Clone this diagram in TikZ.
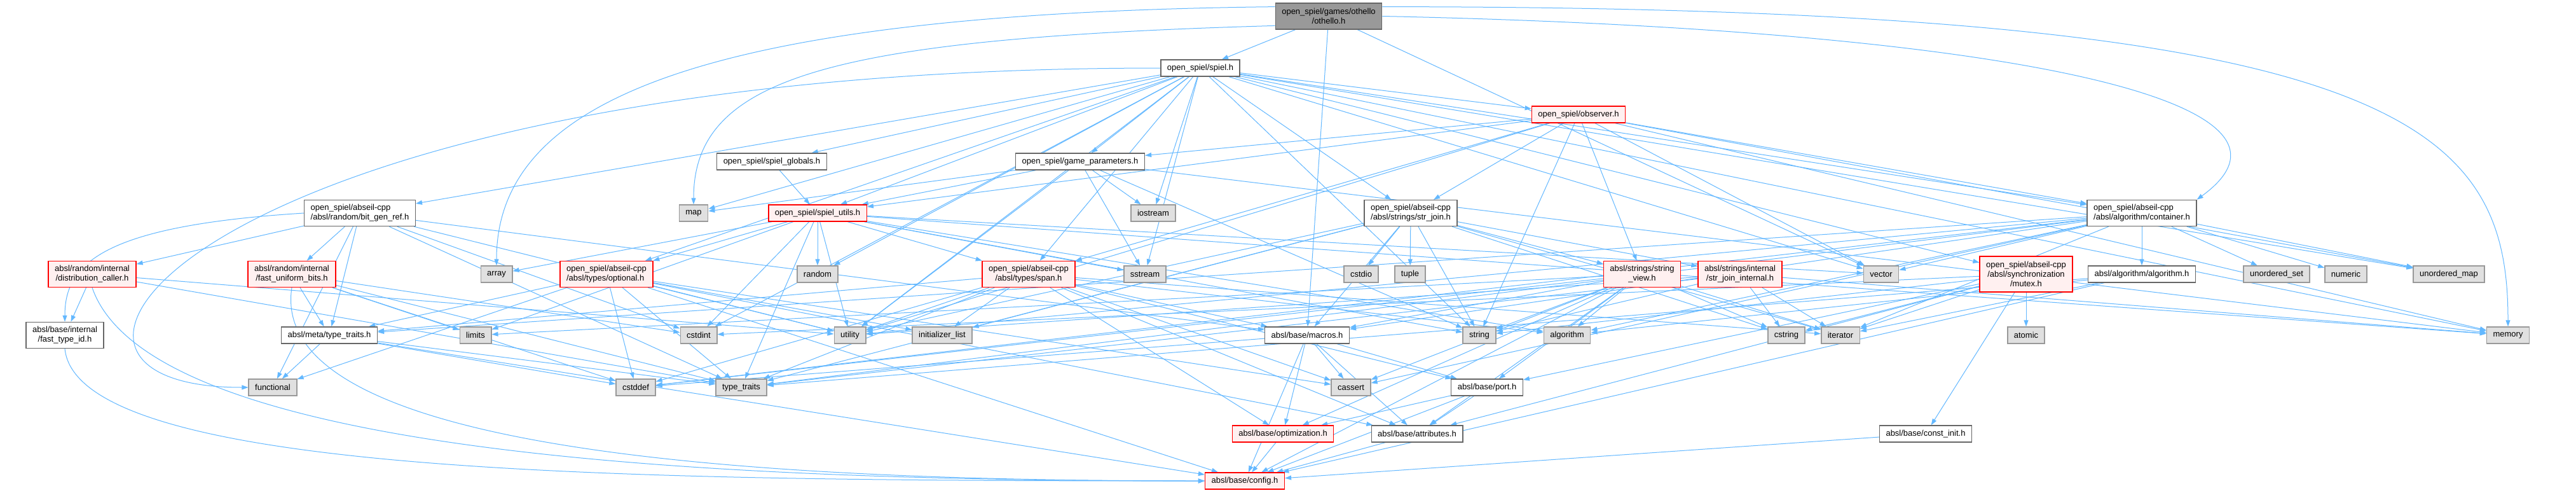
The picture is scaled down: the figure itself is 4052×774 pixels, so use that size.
\documentclass[tikz,border=0pt]{standalone}
\usepackage{fontspec}
\setmainfont{Liberation Sans}
\usepackage{tikz}
\usetikzlibrary{arrows.meta,backgrounds}
\definecolor{incBlue}{RGB}{99,184,255}
\definecolor{boxGray}{RGB}{102,102,102}
\definecolor{sysFill}{RGB}{224,224,224}
\definecolor{sysLine}{RGB}{153,153,153}
\definecolor{redFill}{RGB}{255,240,240}
\definecolor{rootFill}{RGB}{153,153,153}
\tikzset{
  hdr/.style={draw=boxGray, fill=white, line width=1.4pt, inner xsep=10pt, inner ysep=2pt,
    minimum height=26pt, align=center, font=\fontsize{13pt}{15pt}\selectfont},
  hdrred/.style={hdr, draw=red, fill=redFill},
  syshdr/.style={hdr, draw=sysLine, fill=sysFill},
  roothdr/.style={hdr, fill=rootFill},
  two/.style={minimum height=41pt},
  three/.style={minimum height=56pt},
  inc/.style={draw=incBlue, line width=1pt, -{Triangle[length=10pt,width=7pt]}}
}

\begin{document}
\begin{tikzpicture}[x=1pt,y=-1pt]
\useasboundingbox (0,0) rectangle (4052,774);
% rank 0 - 2
\node[roothdr,two] (othello) at (2090,25.5) {open\_spiel/games/othello\\/othello.h};
\node[hdr] (spiel) at (1888,107) {open\_spiel/spiel.h};
\node[hdrred] (observer) at (2483,180) {open\_spiel/observer.h};
\node[hdr] (spielGlobals) at (1214,254) {open\_spiel/spiel\_globals.h};
\node[hdr] (gameParams) at (1699,254) {open\_spiel/game\_parameters.h};
% rank 3
\node[syshdr] (map) at (1091,335) {map};
\node[hdrred] (spielUtils) at (1286,335) {open\_spiel/spiel\_utils.h};
\node[syshdr] (iostream) at (1814,335) {iostream};
\node[hdr,two,align=left] (bitGenRef) at (566,335) {open\_spiel/abseil-cpp\\/absl/random/bit\_gen\_ref.h};
\node[hdr,two,align=left] (strJoin) at (2219,335) {open\_spiel/abseil-cpp\\/absl/strings/str\_join.h};
\node[hdr,two,align=left] (container) at (3369,335) {open\_spiel/abseil-cpp\\/absl/algorithm/container.h};
% rank 4
\node[hdrred,two] (distCaller) at (145,431) {absl/random/internal\\/distribution\_caller.h};
\node[hdrred,two] (fastBits) at (459,431) {absl/random/internal\\/fast\_uniform\_bits.h};
\node[syshdr] (array) at (781,431) {array};
\node[hdrred,two,align=left] (optional) at (954,431) {open\_spiel/abseil-cpp\\/absl/types/optional.h};
\node[syshdr] (random) at (1286,431) {random};
\node[hdrred,two] (span) at (1618,431) {open\_spiel/abseil-cpp\\/absl/types/span.h};
\node[syshdr] (sstream) at (1801,431) {sstream};
\node[syshdr] (cstdio) at (2141,431) {cstdio};
\node[syshdr] (tuple) at (2218,431) {tuple};
\node[hdrred,two] (stringView) at (2583,431) {absl/strings/string\\\_view.h};
\node[hdrred,two] (strJoinInt) at (2737,431) {absl/strings/internal\\/str\_join\_internal.h};
\node[syshdr] (vector) at (2959,431) {vector};
\node[hdrred,three] (mutex) at (3187,431) {open\_spiel/abseil-cpp\\/absl/synchronization\\/mutex.h};
\node[hdr] (algoH) at (3369,431) {absl/algorithm/algorithm.h};
\node[syshdr] (uset) at (3581,431) {unordered\_set};
\node[syshdr] (numeric) at (3690,431) {numeric};
\node[syshdr] (umap) at (3852,431) {unordered\_map};
% rank 5
\node[hdr,two] (fastTypeId) at (102,527) {absl/base/internal\\/fast\_type\_id.h};
\node[hdr] (metaTraits) at (518,527) {absl/meta/type\_traits.h};
\node[syshdr] (limits) at (748,527) {limits};
\node[syshdr] (cstdint) at (1099,527) {cstdint};
\node[syshdr] (utility) at (1337,527) {utility};
\node[syshdr] (initList) at (1482,527) {initializer\_list};
\node[hdr] (macros) at (2056,527) {absl/base/macros.h};
\node[syshdr] (string) at (2327,527) {string};
\node[syshdr] (algorithm) at (2465,527) {algorithm};
\node[syshdr] (cstring) at (2810,527) {cstring};
\node[syshdr] (iterator) at (2895,527) {iterator};
\node[syshdr] (atomic) at (3187,527) {atomic};
\node[syshdr] (memory) at (3945,527) {memory};
% rank 6 - 8
\node[syshdr] (functional) at (429,609) {functional};
\node[syshdr] (cstddef) at (1000,609) {cstddef};
\node[syshdr] (typeTraits) at (1166,609) {type\_traits};
\node[syshdr] (cassert) at (2125,609) {cassert};
\node[hdr] (port) at (2339,609) {absl/base/port.h};
\node[hdrred] (optimization) at (2018,682) {absl/base/optimization.h};
\node[hdr] (attributes) at (2229,682) {absl/base/attributes.h};
\node[hdr] (constInit) at (3029,682) {absl/base/const\_init.h};
\node[hdrred] (config) at (1958,756) {absl/base/config.h};

\begin{scope}[on background layer]
\fill[white] (0,0) rectangle (4052,774);
% includes
\foreach \t in {spiel,vector,macros}
  \draw[inc] (othello) -- (\t);
\draw[inc] (othello.170) .. controls +(-900,10) and +(0,-260) .. (array.north);
\draw[inc] (othello.190) .. controls +(-700,20) and +(0,-200) .. (map.north);
\draw[inc] (othello.10) .. controls +(1600,0) and +(0,-320) .. (memory.north);
\draw[inc] (othello.east) .. controls +(950,20) and +(220,-160) .. (container.north east);
\foreach \t in {observer,spielGlobals,gameParams,map,spielUtils,iostream,bitGenRef,strJoin,container,optional,random,span,sstream,vector,memory,string,cstdint,utility,umap,mutex}
  \draw[inc] (spiel) -- (\t);
\draw[inc] (spiel.west) .. controls +(-1500,0) and +(-450,0) .. (functional.west);
\foreach \t in {gameParams,spielUtils,strJoin,stringView,span,container,memory,string,utility,vector,umap}
  \draw[inc] (observer) -- (\t);
\draw[inc] (spielGlobals) -- (spielUtils);
\foreach \t in {map,spielUtils,iostream,sstream,string,utility,memory}
  \draw[inc] (gameParams) -- (\t);
\foreach \t in {array,random,sstream,span,optional,cstdint,utility,typeTraits,string,algorithm,vector,memory,limits}
  \draw[inc] (spielUtils) -- (\t);
\foreach \t in {distCaller,metaTraits,fastBits,functional,typeTraits,utility,cstdint,macros}
  \draw[inc] (bitGenRef) -- (\t);
\draw[inc] (bitGenRef.west) .. controls +(-320,20) and +(0,-90) .. (fastTypeId.north);
\foreach \t in {fastTypeId,utility,typeTraits}
  \draw[inc] (distCaller) -- (\t);
\draw[inc] (distCaller.south) .. controls +(90,260) and +(-800,0) .. (config.west);
\foreach \t in {cstddef,cstdint,limits,typeTraits,metaTraits}
  \draw[inc] (fastBits) -- (\t);
\draw[inc] (fastBits.south) .. controls +(-40,260) and +(-700,0) .. (config.west);
\draw[inc] (fastTypeId.south) .. controls +(20,200) and +(-900,0) .. (config.west);
\foreach \t in {functional,cstddef,typeTraits,config}
  \draw[inc] (metaTraits) -- (\t);
\foreach \t in {config,cassert,functional,initList,typeTraits,utility,attributes,metaTraits,cstddef}
  \draw[inc] (optional) -- (\t);
\foreach \t in {algorithm,cassert,cstddef,initList,iterator,typeTraits,utility,attributes,macros,optimization,port,metaTraits}
  \draw[inc] (span) -- (\t);
\foreach \t in {cstdio,tuple,cstring,initList,iterator,string,typeTraits,utility,macros,strJoinInt,stringView}
  \draw[inc] (strJoin) -- (\t);
\foreach \t in {algorithm,cassert,cstddef,cstring,iterator,limits,string,attributes,config,macros,optimization,port}
  \draw[inc] (stringView) -- (\t);
\foreach \t in {cstring,iterator,memory,string,typeTraits,utility}
  \draw[inc] (strJoinInt) -- (\t);
\foreach \t in {algorithm,cassert,iterator,numeric,typeTraits,umap,uset,utility,vector,algoH,macros,metaTraits,cstddef}
  \draw[inc] (container) -- (\t);
\foreach \t in {algorithm,iterator,typeTraits,config}
  \draw[inc] (algoH) -- (\t);
\foreach \t in {atomic,cstdint,cstring,iterator,string,attributes,constInit,port}
  \draw[inc] (mutex) -- (\t);
\foreach \t in {cassert,cstddef,attributes,config,optimization,port}
  \draw[inc] (macros) -- (\t);
\foreach \t in {attributes,config,optimization}
  \draw[inc] (port) -- (\t);
\foreach \t in {attributes,optimization,constInit}
  \draw[inc] (\t) -- (config);
\end{scope}
\end{tikzpicture}
\end{document}
